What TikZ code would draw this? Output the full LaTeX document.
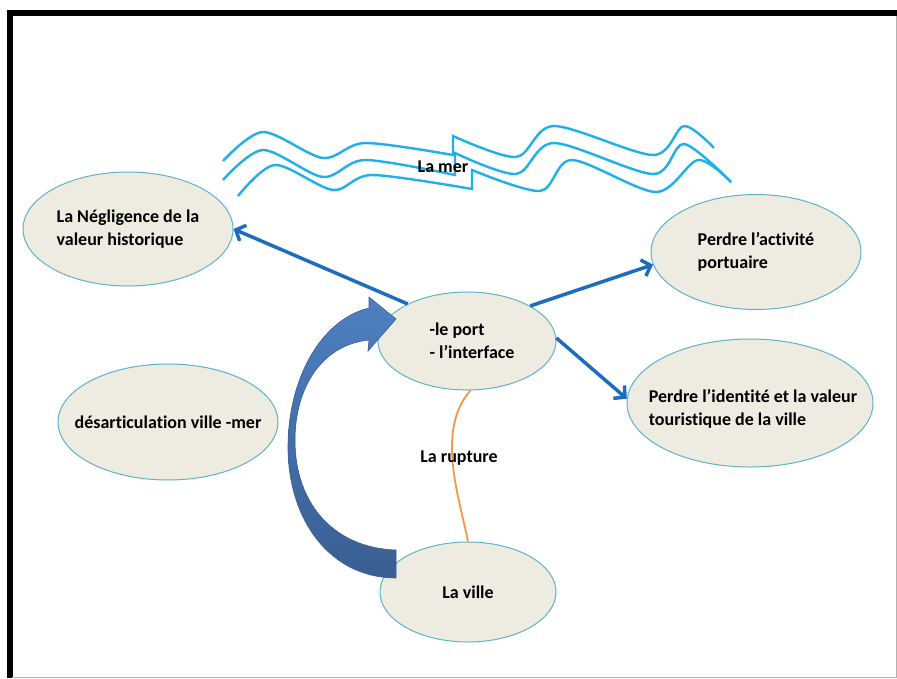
\documentclass[tikz,border=0pt]{standalone}
\usepackage{fontspec}
\setmainfont{Carlito}[Ligatures=NoCommon]
\usetikzlibrary{shapes.geometric,arrows.meta}

\definecolor{fond}{RGB}{238,236,225}
\definecolor{bord}{RGB}{95,178,204}
\definecolor{vague}{RGB}{30,176,232}
\definecolor{lien}{RGB}{28,108,192}
\definecolor{rupt}{RGB}{247,150,70}
\definecolor{flecheH}{RGB}{78,128,194}
\definecolor{flecheB}{RGB}{58,94,146}

% white page, greying towards the corners
\pgfdeclareradialshading{vignette}{\pgfpoint{0bp}{0bp}}{color(0bp)=(white); color(40bp)=(white); color(72bp)=(black!16)}

\begin{document}
\begin{tikzpicture}[x=1pt,y=-1pt,
    bulle/.style={ellipse,draw=bord,line width=1pt,fill=fond,inner sep=0pt},
    txt/.style={font=\fontsize{18}{23}\selectfont\bfseries,align=left,inner sep=0pt},
    lien/.style={draw=lien,line width=3.5pt,-{Straight Barb[length=8pt,width=17pt]}},
    vague/.style={draw=vague,line width=2.4pt}]
  \useasboundingbox (0,0) rectangle (897,678);
  \shade[shading=vignette] (0,0) rectangle (897,678);

  % cadre
  \fill[black] (7,10) rectangle (897,16);
  \fill[black] (7,10) rectangle (12.5,678);
  \draw[black!30,line width=1pt] (12,677) -- (896,677) -- (896,16);

  % la mer
  \draw[vague] plot[smooth] coordinates {(223,161) (263,132) (323,158) (365,143) (453,155)}
     -- plot[smooth] coordinates {(453,136) (516,157) (554,126) (653,155) (684,126) (714,148)};
  \draw[vague] plot[smooth] coordinates {(223,180) (263,150) (323,177) (365,160) (455,175)}
     -- plot[smooth] coordinates {(455,153) (516,174) (554,143) (653,174) (684,144) (731,182)};
  \draw[vague] plot[smooth] coordinates {(238,196) (275,165) (333,190) (372,175) (472,189)}
     -- plot[smooth] coordinates {(472,170) (540,191) (572,160) (656,192) (698,160) (731,182)};
  \node[txt] (mer) at (443,167) {La mer};

  \node[bulle,minimum width=210,minimum height=114,
        label={[txt]center:{La Négligence de la\\valeur historique}}] (neg) at (128,229) {};
  \node[bulle,minimum width=210,minimum height=115,
        label={[txt]center:{Perdre l’activité\\portuaire}}] (act) at (756,252) {};
  \node[bulle,minimum width=220,minimum height=116,
        label={[txt]center:{désarticulation ville -mer}}] (desart) at (168,422) {};
  \node[bulle,minimum width=178,minimum height=98,
        label={[txt,xshift=5pt]center:{-le port\\ - l’interface}}] (port) at (467,341) {};
  \node[bulle,minimum width=246,minimum height=128,
        label={[txt,xshift=3pt,yshift=-6pt]center:{Perdre l’identité et la  valeur\\touristique de la ville}}] (ident) at (750,403) {};
  \node[bulle,minimum width=176,minimum height=100,
        label={[txt]center:{La ville}}] (ville) at (468,592) {};

  % la rupture
  \draw[rupt,line width=1.8pt] (port.-86) .. controls (435,430) and (460,500) .. (ville.north);
  \node[txt] (rupture) at (459,458) {La rupture};

  \draw[lien] (port.148) -- (neg.east);
  \draw[lien] (port.29) -- (act.187);
  \draw[lien] (port.2) -- (ident.178);

  % grande fleche de la ville vers le port
  \shade[top color=flecheH,bottom color=flecheB,draw=flecheB,line width=0.6pt]
    (396,578) .. controls (330,578) and (288,520) .. (288,447)
    .. controls (288,380) and (320,320) .. (369,308) -- (369,297) -- (396,319)
    -- (368,351) -- (369,340) .. controls (320,345) and (295,390) .. (295,440)
    .. controls (295,505) and (335,548) .. (396,550) -- cycle;
\end{tikzpicture}
\end{document}
